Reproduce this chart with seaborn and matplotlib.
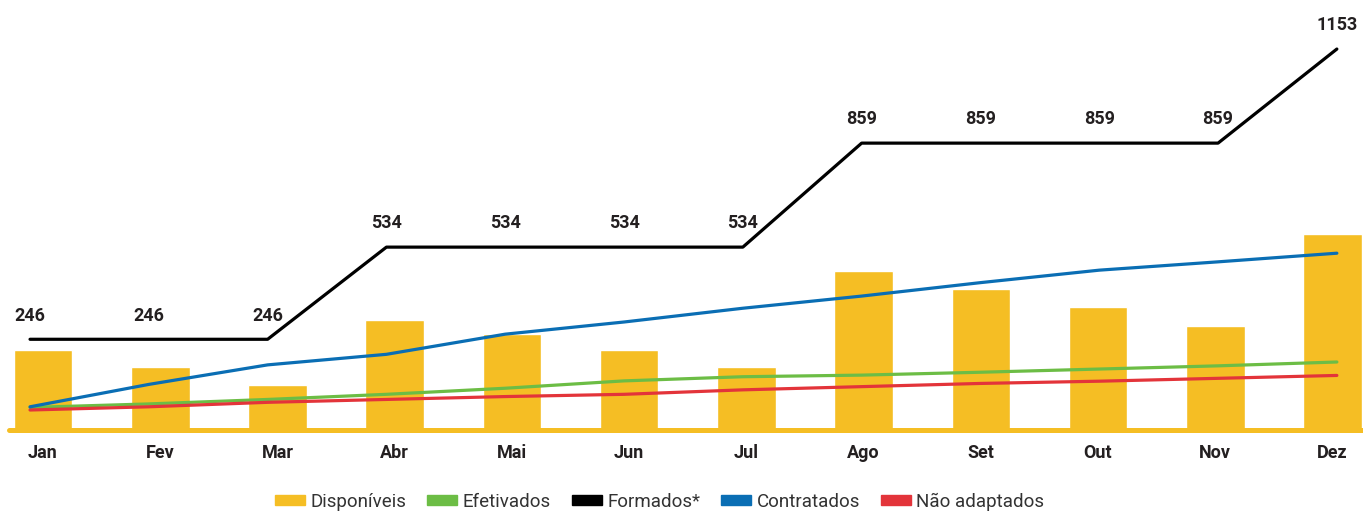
import seaborn as sns
import matplotlib.pyplot as plt
import matplotlib.patches as mpatches

# Dados mensais
months = ["Jan", "Fev", "Mar", "Abr", "Mai", "Jun", "Jul", "Ago", "Set", "Out", "Nov", "Dez"]
disponiveis = [250, 197, 141, 344, 300, 250, 197, 497, 441, 384, 325, 612]
formados = [246, 246, 246, 534, 534, 534, 534, 859, 859, 859, 859, 1153]
contratados = [35, 105, 166, 199, 262, 300, 343, 381, 423, 462, 488, 515]
efetivados = [33, 44, 58, 74, 93, 116, 129, 134, 143, 153, 163, 175]
nao_adaptados = [25, 35, 49, 58, 67, 74, 88, 98, 108, 115, 124, 133]

YELLOW = "#F5BE24"
GREEN = "#6CBD45"
BLACK = "#000000"
BLUE = "#0A6EB4"
RED = "#E3343A"
TEXT = "#231F20"

sns.set_theme(style="white")
plt.rcParams["font.family"] = ["Roboto", "DejaVu Sans"]

fig = plt.figure(figsize=(13.63, 5.12), dpi=100)
pos = [9 / 1363, 82 / 512, 1354 / 1363, 410 / 512]

# Barras (Disponíveis)
ax = fig.add_axes(pos)
sns.barplot(x=months, y=disponiveis, color=YELLOW, width=0.5, saturation=1, ax=ax)
ax.axhline(0, color=YELLOW, lw=3.6, clip_on=False)
ax.set_xlim(-0.29, 11.26)
ax.set_ylim(0, 1281)
ax.set_yticks([])
ax.tick_params(axis="x", length=0, pad=10, labelsize=13, labelcolor=TEXT)
for lbl in ax.get_xticklabels():
    lbl.set_fontweight("bold")
sns.despine(ax=ax, left=True, bottom=True)

# Linhas (eixo sobreposto)
ax2 = fig.add_axes(pos)
ax2.patch.set_alpha(0)
sns.lineplot(x=months, y=efetivados, color=GREEN, lw=2.3, ax=ax2)
sns.lineplot(x=months, y=nao_adaptados, color=RED, lw=2.3, ax=ax2)
sns.lineplot(x=months, y=contratados, color=BLUE, lw=2.3, ax=ax2)
sns.lineplot(x=months, y=formados, color=BLACK, lw=2.3, ax=ax2)
ax2.set_xlim(-0.177, 11.22)
ax2.set_ylim(-37.5, 1243.75)
ax2.axis("off")

for i, v in enumerate(formados):
    ax2.annotate(str(v), (i, v), xytext=(0, 13.5), textcoords="offset points",
                 ha="center", va="baseline", fontsize=13, fontweight="bold", color=TEXT)

# Legenda
handles = [mpatches.Patch(color=YELLOW, label="Disponíveis"),
           mpatches.Patch(color=GREEN, label="Efetivados"),
           mpatches.Patch(color=BLACK, label="Formados*"),
           mpatches.Patch(color=BLUE, label="Contratados"),
           mpatches.Patch(color=RED, label="Não adaptados")]
leg = fig.legend(handles=handles, loc="center", bbox_to_anchor=(0.484, 0.02), ncol=5,
                 frameon=False, fontsize=13.5, handlelength=1.6, handleheight=0.45,
                 handletextpad=0.3, columnspacing=1.1)
for t in leg.get_texts():
    t.set_color("#333333")

fig.savefig("out.png", dpi=100)
